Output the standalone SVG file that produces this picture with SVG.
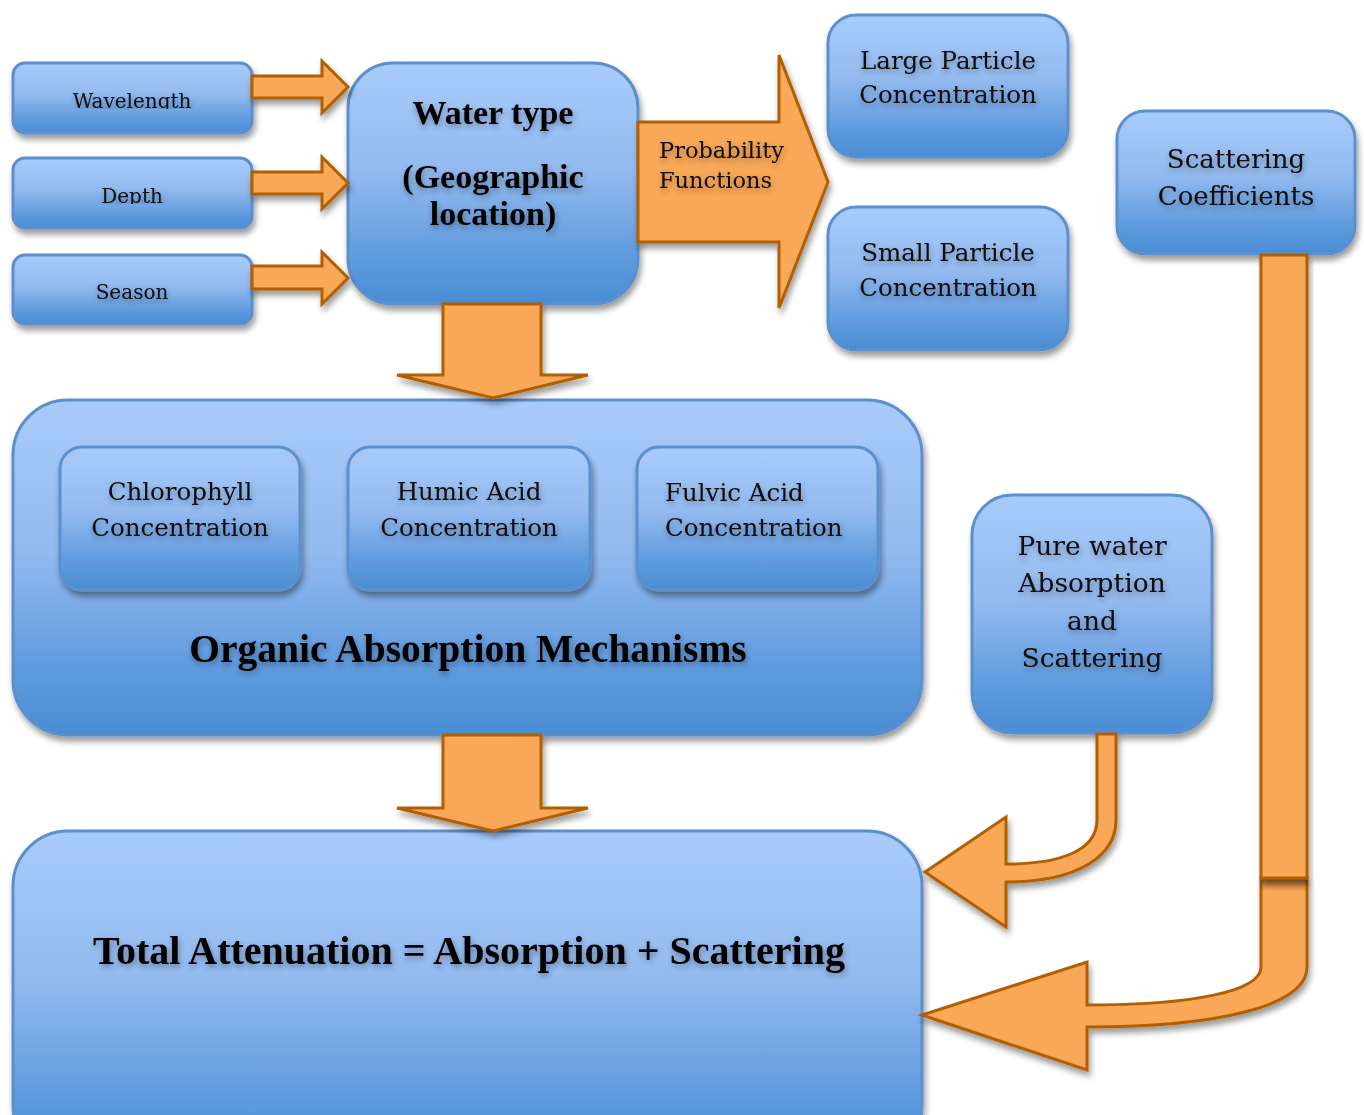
<svg xmlns="http://www.w3.org/2000/svg" width="1364" height="1115" viewBox="0 0 1364 1115">
  <defs>
    <linearGradient id="boxFill" x1="0" y1="0" x2="0" y2="1">
      <stop offset="0" stop-color="#a8cbfb"/>
      <stop offset="0.45" stop-color="#93baef"/>
      <stop offset="0.8" stop-color="#5f9bde"/>
      <stop offset="1" stop-color="#4a8dd4"/>
    </linearGradient>
    <linearGradient id="seamShade" x1="0" y1="0" x2="0" y2="1">
      <stop offset="0" stop-color="#7a4000" stop-opacity="0.55"/>
      <stop offset="1" stop-color="#7a4000" stop-opacity="0"/>
    </linearGradient>
    <filter id="drop" x="-10%" y="-10%" width="125%" height="130%">
      <feGaussianBlur in="SourceAlpha" stdDeviation="3"/>
      <feOffset dx="2" dy="5" result="b"/>
      <feComponentTransfer in="b" result="s">
        <feFuncA type="linear" slope="0.4"/>
      </feComponentTransfer>
      <feMerge>
        <feMergeNode in="s"/>
        <feMergeNode in="SourceGraphic"/>
      </feMerge>
    </filter>
    <filter id="glow" x="-10%" y="-40%" width="120%" height="190%">
      <feGaussianBlur in="SourceAlpha" stdDeviation="3"/>
      <feOffset dx="1" dy="3" result="b"/>
      <feComponentTransfer in="b" result="s">
        <feFuncA type="linear" slope="0.35"/>
      </feComponentTransfer>
      <feMerge>
        <feMergeNode in="s"/>
        <feMergeNode in="SourceGraphic"/>
      </feMerge>
    </filter>
    <clipPath id="cutWave"><rect x="13" y="63" width="239" height="46"/></clipPath>
    <clipPath id="cutDepth"><rect x="13" y="158" width="239" height="46"/></clipPath>
    <style>
      .box { fill: url(#boxFill); stroke: #5c8fcc; stroke-width: 3; filter: url(#drop); }
      .arrow { fill: #f8a857; stroke: #b15f05; stroke-width: 3; stroke-linejoin: miter; filter: url(#drop); }
      .t { font-family: "DejaVu Serif", serif; fill: #0a0a0a; text-anchor: middle; filter: url(#glow); }
      .t.left { text-anchor: start; }
      .tb { font-family: "Liberation Serif", "Times New Roman", serif; font-weight: bold; fill: #000; text-anchor: middle; filter: url(#glow); }
    </style>
  </defs>

  <!-- input parameters -->
  <g id="wavelength">
    <rect class="box" x="13" y="63" width="239" height="70" rx="12"/>
    <text class="t" x="132" y="108" font-size="20" clip-path="url(#cutWave)">Wavelength</text>
  </g>
  <g id="depth">
    <rect class="box" x="13" y="158" width="239" height="70" rx="12"/>
    <text class="t" x="132" y="203" font-size="20" clip-path="url(#cutDepth)">Depth</text>
  </g>
  <g id="season">
    <rect class="box" x="13" y="255" width="239" height="69" rx="12"/>
    <text class="t" x="132" y="299" font-size="20">Season</text>
  </g>

  <!-- water type -->
  <g id="water-type">
    <rect class="box" x="348" y="63" width="290" height="241" rx="45"/>
    <text class="tb" x="493" y="124" font-size="34">Water type</text>
    <text class="tb" x="493" y="188" font-size="34">(Geographic</text>
    <text class="tb" x="493" y="225" font-size="34">location)</text>
  </g>

  <!-- particle concentrations -->
  <g id="large-particle">
    <rect class="box" x="828" y="15" width="240" height="142" rx="28"/>
    <text class="t" x="948" y="69" font-size="24.5">Large Particle</text>
    <text class="t" x="948" y="103" font-size="24.5">Concentration</text>
  </g>
  <g id="small-particle">
    <rect class="box" x="828" y="207" width="240" height="143" rx="28"/>
    <text class="t" x="948" y="261" font-size="24.5">Small Particle</text>
    <text class="t" x="948" y="296" font-size="24.5">Concentration</text>
  </g>
  <g id="scattering-coefficients">
    <rect class="box" x="1117" y="111" width="238" height="143" rx="28"/>
    <text class="t" x="1236" y="168" font-size="26">Scattering</text>
    <text class="t" x="1236" y="205" font-size="26">Coefficients</text>
  </g>

  <!-- organic absorption -->
  <g id="organic-absorption">
    <rect class="box" x="13" y="400" width="909" height="335" rx="55"/>
    <text class="tb" x="468" y="662" font-size="39.5">Organic Absorption Mechanisms</text>
  </g>
  <g id="chlorophyll">
    <rect class="box" x="60" y="447" width="240" height="143" rx="22"/>
    <text class="t" x="180" y="500" font-size="24.5">Chlorophyll</text>
    <text class="t" x="180" y="536" font-size="24.5">Concentration</text>
  </g>
  <g id="humic-acid">
    <rect class="box" x="348" y="447" width="242" height="143" rx="22"/>
    <text class="t" x="469" y="500" font-size="24.5">Humic Acid</text>
    <text class="t" x="469" y="536" font-size="24.5">Concentration</text>
  </g>
  <g id="fulvic-acid">
    <rect class="box" x="637" y="447" width="241" height="143" rx="22"/>
    <text class="t left" x="665" y="501" font-size="24.5">Fulvic Acid</text>
    <text class="t left" x="665" y="536" font-size="24.5">Concentration</text>
  </g>

  <!-- pure water -->
  <g id="pure-water">
    <rect class="box" x="972" y="495" width="240" height="238" rx="40"/>
    <text class="t" x="1092" y="555" font-size="26.5">Pure water</text>
    <text class="t" x="1092" y="592" font-size="26.5">Absorption</text>
    <text class="t" x="1092" y="630" font-size="26.5">and</text>
    <text class="t" x="1092" y="667" font-size="26.5">Scattering</text>
  </g>

  <!-- total -->
  <g id="total-attenuation">
    <rect class="box" x="13" y="831" width="909" height="330" rx="55"/>
    <text class="tb" x="469" y="964" font-size="40">Total Attenuation = Absorption + Scattering</text>
  </g>

  <!-- connectors -->
  <g id="connectors">
    <polygon class="arrow" points="252,76 322,76 322,61 348,87 322,113 322,98 252,98"/>
    <polygon class="arrow" points="252,172 322,172 322,157 348,183 322,209 322,194 252,194"/>
    <polygon class="arrow" points="252,266 322,266 322,252 348,278 322,304 322,289 252,289"/>

    <polygon class="arrow" points="638,122 779,122 779,55 828,182 779,308 779,242 638,242"/>
    <text class="t left" x="659" y="158" font-size="22.5">Probability</text>
    <text class="t left" x="659" y="188" font-size="22.5">Functions</text>

    <polygon class="arrow" points="443,304 541,304 541,375 588,375 493,398 397,375 443,375"/>
    <polygon class="arrow" points="443,735 541,735 541,808 588,808 493,831 397,808 443,808"/>

    <path class="arrow" d="M1097,734 L1097,820 C1097,850 1062,864 1006,864 L1006,817 L925,872 L1006,927 L1006,882 C1078,882 1116,856 1116,820 L1116,734 Z"/>

    <path class="arrow" d="M1261,878 L1261,967 C1261,992 1190,1005 1087,1005 L1087,962 L922,1015 L1087,1070 L1087,1027 C1222,1027 1307,1005 1307,967 L1307,878 Z"/>
    <rect x="1261" y="879" width="46" height="12" fill="url(#seamShade)"/>
    <rect class="arrow" x="1261" y="255" width="46" height="623"/>
  </g>
</svg>
